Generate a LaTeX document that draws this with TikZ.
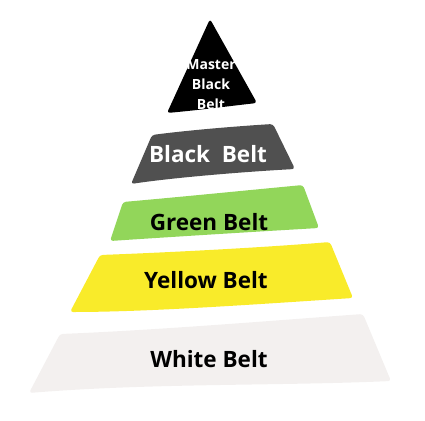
\documentclass[tikz,border=0pt]{standalone}
\usepackage{fontspec}
\setmainfont{Open Sans}
\definecolor{mbb}{HTML}{000000}
\definecolor{bb}{HTML}{505050}
\definecolor{gb}{HTML}{92D65A}
\definecolor{yb}{HTML}{F9EB2A}
\definecolor{wb}{HTML}{F3F0EF}
\begin{document}
\begin{tikzpicture}[x=1pt,y=-1pt,
  tier/.style={rounded corners=3pt},
  lbl/.style={font=\bfseries\fontsize{22.5}{24}\selectfont, inner sep=0pt},
  small/.style={font=\bfseries\fontsize{14}{20}\selectfont, align=center, inner sep=0pt, text=white}]
\useasboundingbox (0,0) rectangle (425,420);
% Master Black Belt
\fill[mbb, tier] (210,19) -- (257,103) .. controls (230,106) and (200,110) .. (167,113) -- cycle;
% Black Belt
\fill[bb, tier] (152,135) .. controls (190,130) and (240,126) .. (273,124) -- (295,169) .. controls (240,172) and (170,178) .. (131,184) -- cycle;
% Green Belt
\fill[gb, tier] (123,202) .. controls (180,197) and (250,190) .. (303,185) -- (319,228) .. controls (250,232) and (170,237) .. (110,241) -- cycle;
% Yellow Belt
\fill[yb, tier] (100,255) .. controls (180,252) and (270,247) .. (330,242) -- (353,298) .. controls (260,304) and (150,312) .. (70,312) -- cycle;
% White Belt
\fill[wb, tier] (60,334) .. controls (160,330) and (280,320) .. (363,314) -- (391,381) .. controls (280,386) and (150,383) .. (29,393) -- cycle;
\node[small] (mt) at (211,85) {Master\\Black\\Belt};
\node[lbl, text=white] (bt) at (208,154) {Black~ Belt};
\node[lbl] (gt) at (209,222) {Green Belt};
\node[lbl] (yt) at (206,280) {Yellow Belt};
\node[lbl] (wt) at (209,359) {White Belt};
\end{tikzpicture}
\end{document}
